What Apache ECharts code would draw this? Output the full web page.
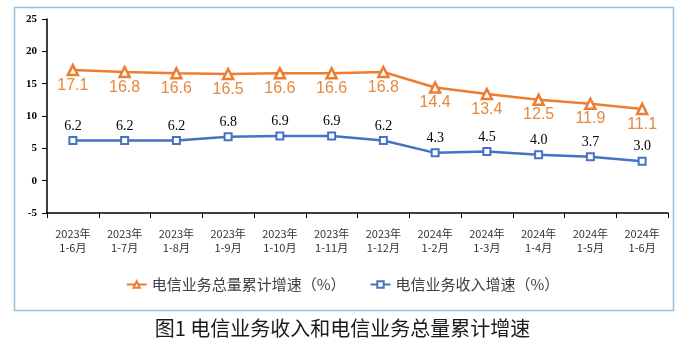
<!DOCTYPE html>
<html>
<head>
<meta charset="utf-8">
<script src="https://cdn.jsdelivr.net/npm/echarts@6/dist/echarts.min.js"></script>
<style>html,body{margin:0;padding:0;background:#fff;}#c{width:685px;height:342px;}</style>
</head>
<body>
<div id="c"></div>
<script>
var categories = ['2023年\n1-6月','2023年\n1-7月','2023年\n1-8月','2023年\n1-9月','2023年\n1-10月','2023年\n1-11月','2023年\n1-12月','2024年\n1-2月','2024年\n1-3月','2024年\n1-4月','2024年\n1-5月','2024年\n1-6月'];
var volumeGrowth = [17.1,16.8,16.6,16.5,16.6,16.6,16.8,14.4,13.4,12.5,11.9,11.1];
var revenueGrowth = [6.2,6.2,6.2,6.8,6.9,6.9,6.2,4.3,4.5,4.0,3.7,3.0];
var seriesNames = ['电信业务总量累计增速（%）','电信业务收入增速（%）'];
var titleText = '图1 电信业务收入和电信业务总量累计增速';

var chart = echarts.init(document.getElementById('c'), null, {renderer:'canvas'});
chart.setOption({
  animation:false,
  backgroundColor:'#fff',
  graphic:[
    {type:'rect', z:-1, shape:{x:14.5,y:7.5,width:659,height:303}, style:{fill:'#fff', stroke:'#93C2DC', lineWidth:1.5}}
  ],
  title:{text:titleText, left:'center', top:313, textStyle:{fontFamily:'Noto Sans CJK SC', fontSize:20, fontWeight:'normal', color:'#1a1a1a'}},
  legend:{
    top:272, left:'center', itemGap:24, itemWidth:20, itemHeight:8,
    textStyle:{fontFamily:'Noto Sans CJK SC', fontSize:15, color:'#404040'},
    data:seriesNames
  },
  grid:{left:47, right:17, top:19, bottom:129},
  xAxis:{
    type:'category', data:categories, boundaryGap:true,
    axisLine:{onZero:false, lineStyle:{color:'#000', width:1.5}},
    axisTick:{show:true, length:5, lineStyle:{color:'#000'}},
    axisLabel:{fontFamily:'Noto Sans CJK SC', fontSize:11, color:'#333', lineHeight:14, margin:14, interval:0}
  },
  yAxis:{
    type:'value', min:-5, max:25, interval:5,
    splitLine:{show:false},
    axisLine:{show:true, lineStyle:{color:'#000', width:1.5}},
    axisTick:{show:true, length:5, lineStyle:{color:'#000'}},
    axisLabel:{fontFamily:'Liberation Serif', fontSize:11, fontWeight:'bold', color:'#000', margin:10}
  },
  series:[
    {
      name:seriesNames[0], type:'line', data:volumeGrowth,
      symbol:'triangle', symbolSize:10, showAllSymbol:true,
      lineStyle:{color:'#ED7D31', width:2.5},
      itemStyle:{color:'#fff', borderColor:'#ED7D31', borderWidth:2.5},
      emphasis:{disabled:true},
      label:{show:true, position:'bottom', distance:1, fontFamily:'Liberation Sans', fontSize:16, color:'#E8873E', formatter:function(p){return p.value.toFixed(1);}}
    },
    {
      name:seriesNames[1], type:'line', data:revenueGrowth,
      symbol:'rect', symbolSize:7, showAllSymbol:true,
      lineStyle:{color:'#4472C4', width:2.5},
      itemStyle:{color:'#fff', borderColor:'#4472C4', borderWidth:2},
      emphasis:{disabled:true},
      label:{show:true, position:'top', distance:3, fontFamily:'Liberation Serif', fontSize:14, color:'#000', formatter:function(p){return p.value.toFixed(1);}}
    }
  ]
});
</script>
</body>
</html>
